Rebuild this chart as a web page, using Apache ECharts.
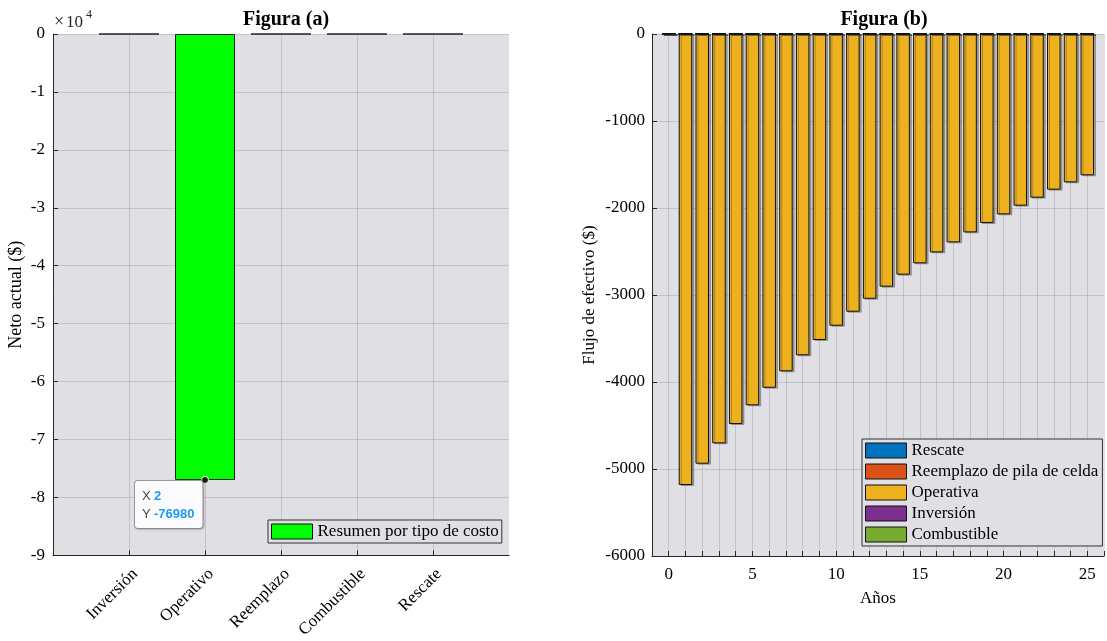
<!DOCTYPE html>
<html><head><meta charset="utf-8">
<script src="https://cdn.jsdelivr.net/npm/echarts@6/dist/echarts.min.js"></script>
<style>html,body{margin:0;padding:0;background:#fff}#c{width:1107px;height:641px}</style>
</head><body><div id="c"></div>
<script>
// ---- Data: Figura (a)
const costTypes = ['Inversión', 'Operativo', 'Reemplazo', 'Combustible', 'Rescate'];
const costSummary = [0, -76980, 0, 0, 0];
const legendA = 'Resumen por tipo de costo';
// ---- Data: Figura (b)
const years = [0,1,2,3,4,5,6,7,8,9,10,11,12,13,14,15,16,17,18,19,20,21,22,23,24,25];
const rescate     = [0,0,0,0,0,0,0,0,0,0,0,0,0,0,0,0,0,0,0,0,0,0,0,0,0,0];
const reemplazo   = [0,0,0,0,0,0,0,0,0,0,0,0,0,0,0,0,0,0,0,0,0,0,0,0,0,0];
const operativa   = [0,-5184,-4939,-4705,-4483,-4268,-4066,-3877,-3693,-3517,-3353,-3192,-3043,-2904,-2766,-2636,-2510,-2395,-2280,-2172,-2073,-1973,-1881,-1789,-1705,-1624];
const inversion   = [0,0,0,0,0,0,0,0,0,0,0,0,0,0,0,0,0,0,0,0,0,0,0,0,0,0];
const combustible = [0,0,0,0,0,0,0,0,0,0,0,0,0,0,0,0,0,0,0,0,0,0,0,0,0,0];
const seriesB = [
  {name: 'Rescate', values: rescate, color: '#0072BD'},
  {name: 'Reemplazo de pila de celda', values: reemplazo, color: '#D95319'},
  {name: 'Operativa', values: operativa, color: '#EDB120'},
  {name: 'Inversión', values: inversion, color: '#7E2F8E'},
  {name: 'Combustible', values: combustible, color: '#77AC30'}
];
const yTicksA = [0,-10000,-20000,-30000,-40000,-50000,-60000,-70000,-80000,-90000];
const xLabelsB = [0,5,10,15,20,25];
const tipIndex = 1;

const SERIF = "'Liberation Serif','Times New Roman',serif";
const SANS = "'Liberation Sans',Arial,sans-serif";
const BG = '#e0dfe3';
const GRIDC = 'rgba(0,0,0,0.12)';
const AX = '#262626';

const chart = echarts.init(document.getElementById('c'), null, {renderer: 'canvas'});

const axisCommon = {
  axisLine: {show: true, onZero: false, lineStyle: {color: AX, width: 1}},
  axisTick: {show: true, inside: true, length: 5, lineStyle: {color: AX}},
  axisLabel: {color: '#000', fontFamily: SERIF, fontSize: 17},
  splitLine: {show: true, lineStyle: {color: GRIDC, width: 1}},
  nameTextStyle: {color: '#000', fontFamily: SERIF, fontSize: 17}
};
const legendCommon = {
  orient: 'vertical', icon: 'rect', itemWidth: 41, itemHeight: 15,
  borderColor: '#333', borderWidth: 1, backgroundColor: BG, selectedMode: false,
  itemStyle: {borderWidth: 1, borderColor: '#111', shadowColor: 'rgba(0,0,0,0)', shadowOffsetX: 0, shadowOffsetY: 0},
  textStyle: {fontFamily: SERIF, fontSize: 17, color: '#000'}
};

const option = {
  animation: false,
  backgroundColor: '#fff',
  title: [
    {text: 'Figura (a)', left: 281, top: 5, textAlign: 'center',
     textStyle: {fontFamily: SERIF, fontSize: 20, fontWeight: 'bold', color: '#000'}},
    {text: 'Figura (b)', left: 879, top: 5, textAlign: 'center',
     textStyle: {fontFamily: SERIF, fontSize: 20, fontWeight: 'bold', color: '#000'}}
  ],
  legend: [
    Object.assign({}, legendCommon, {data: [legendA], left: 268, top: 520, padding: [3, 3, 3, 3]}),
    Object.assign({}, legendCommon, {data: seriesB.map(s => s.name), left: 862, top: 439,
      itemGap: 4, padding: [3, 4, 3, 3]})
  ],
  grid: [
    {left: 53, top: 34, width: 456, height: 522, show: true, backgroundColor: BG, borderWidth: 0},
    {left: 652, top: 34, width: 454, height: 522, show: true, backgroundColor: BG, borderWidth: 0}
  ],
  xAxis: [
    Object.assign({}, axisCommon, {
      gridIndex: 0, type: 'value', min: 0, max: costTypes.length + 1, interval: 1,
      axisTick: Object.assign({}, axisCommon.axisTick, {customValues: costTypes.map((c, i) => i + 1)}),
      axisLabel: Object.assign({}, axisCommon.axisLabel, {
        customValues: costTypes.map((c, i) => i + 1), rotate: 45, margin: 10,
        align: 'right', verticalAlign: 'top',
        formatter: v => costTypes[v - 1] || ''}),
      splitLine: {show: true, lineStyle: {color: GRIDC}}
    }),
    Object.assign({}, axisCommon, {
      gridIndex: 1, type: 'value', min: -1, max: 26, interval: 1,
      name: 'Años', nameLocation: 'middle', nameGap: 34,
      axisLabel: Object.assign({}, axisCommon.axisLabel, {margin: 10,
        formatter: v => xLabelsB.indexOf(v) >= 0 ? String(v) : ''})
    })
  ],
  yAxis: [
    Object.assign({}, axisCommon, {
      gridIndex: 0, type: 'value', min: yTicksA[yTicksA.length - 1], max: yTicksA[0], interval: 10000,
      name: 'Neto actual ($)', nameLocation: 'middle', nameGap: 28,
      nameTextStyle: {color: '#000', fontFamily: SERIF, fontSize: 18},
      axisLabel: Object.assign({}, axisCommon.axisLabel, {margin: 8, formatter: v => String(v / 10000)})
    }),
    Object.assign({}, axisCommon, {
      gridIndex: 1, type: 'value', min: -6000, max: 0, interval: 1000,
      name: 'Flujo de efectivo ($)', nameLocation: 'middle', nameGap: 54,
      axisLabel: Object.assign({}, axisCommon.axisLabel, {margin: 7, formatter: v => String(v)})
    })
  ],
  graphic: [
    {type: 'text', left: 54, top: 13, style: {text: '×', font: '18px ' + SERIF, fill: '#262626'}},
    {type: 'text', left: 66, top: 14, style: {text: '10', font: '17px ' + SERIF, fill: '#262626'}},
    {type: 'text', left: 86, top: 9, style: {text: '4', font: '12px ' + SERIF, fill: '#262626'}}
  ],
  series: [
    {
      name: legendA, type: 'bar', xAxisIndex: 0, yAxisIndex: 0, barWidth: 60,
      data: costSummary.map((v, i) => [i + 1, v]),
      itemStyle: {color: '#00FF00', borderColor: '#222', borderWidth: 1},
      markPoint: {
        symbol: 'circle', symbolSize: 7,
        itemStyle: {color: '#1a1a1a', borderColor: '#fffbd0', borderWidth: 1},
        data: [{coord: [tipIndex + 1, costSummary[tipIndex]]}],
        label: {
          show: true, position: [-66, 5], align: 'left', verticalAlign: 'top',
          backgroundColor: '#fbfbfd', borderColor: '#9a9a9a', borderWidth: 1, borderRadius: 3,
          padding: [6, 8, 5, 7], lineHeight: 18,
          shadowColor: 'rgba(0,0,0,0.15)', shadowBlur: 2, shadowOffsetX: 1, shadowOffsetY: 1,
          formatter: p => '{k|X} {v|' + p.data.coord[0] + '}\n{k|Y} {v|' + p.data.coord[1] + '}',
          rich: {
            k: {fontFamily: SANS, fontSize: 13, color: '#444', lineHeight: 18},
            v: {fontFamily: SANS, fontSize: 13, color: '#1e9cf0', fontWeight: 'bold', lineHeight: 18}
          }
        }
      }
    }
  ].concat(seriesB.map(s => ({
    name: s.name, type: 'bar', xAxisIndex: 1, yAxisIndex: 1, stack: 'b', barWidth: 13.5,
    data: years.map((y, i) => [y, s.values[i]]),
    itemStyle: {color: s.color, borderColor: '#111', borderWidth: 1,
      shadowColor: 'rgba(70,70,70,0.4)', shadowOffsetX: 2, shadowOffsetY: 1, shadowBlur: 0}
  })))
};
chart.setOption(option);
</script>
</body></html>
